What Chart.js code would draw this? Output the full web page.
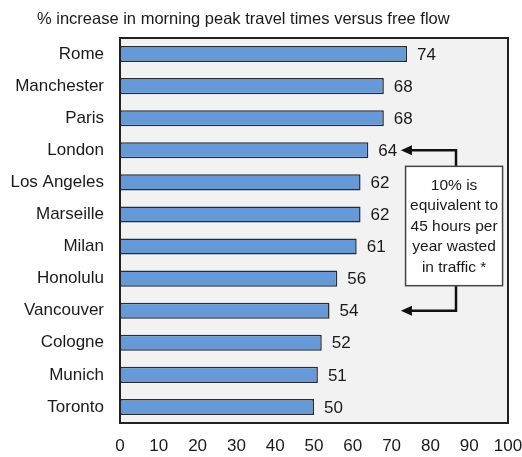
<!DOCTYPE html>
<html>
<head>
<meta charset="utf-8">
<script src="https://cdn.jsdelivr.net/npm/chart.js@4.4.0/dist/chart.umd.min.js"></script>
<style>
  html, body { margin: 0; padding: 0; background: #fff; }
  #wrap { width: 522px; height: 457px; }
</style>
</head>
<body>
<div id="wrap"><canvas id="chart" width="522" height="457"></canvas></div>
<script>
const cities = ['Rome', 'Manchester', 'Paris', 'London', 'Los Angeles', 'Marseille',
  'Milan', 'Honolulu', 'Vancouver', 'Cologne', 'Munich', 'Toronto'];
const increase = [74, 68, 68, 64, 62, 62, 61, 56, 54, 52, 51, 50];
const chartTitle = '% increase in morning peak travel times versus free flow';
const noteLines = ['10% is', 'equivalent to', '45 hours per', 'year wasted', 'in traffic *'];

const FONT = '"Liberation Sans", Arial, sans-serif';

// grey plot background + dark frame
const frame = {
  id: 'frame',
  beforeDatasetsDraw(chart) {
    const a = chart.chartArea, ctx = chart.ctx;
    ctx.save();
    ctx.fillStyle = '#f2f2f2';
    ctx.fillRect(a.left, a.top, a.right - a.left, a.bottom - a.top);
    ctx.restore();
  },
  afterDatasetsDraw(chart) {
    const a = chart.chartArea, ctx = chart.ctx;
    ctx.save();
    ctx.strokeStyle = '#222';
    ctx.lineWidth = 2;
    ctx.strokeRect(a.left, a.top, a.right - a.left, a.bottom - a.top);
    ctx.restore();
  }
};

// value labels, title and the note box with arrows
const extras = {
  id: 'extras',
  afterDraw(chart) {
    const ctx = chart.ctx;
    const x = chart.scales.x, y = chart.scales.y;
    ctx.save();
    ctx.fillStyle = '#1a1a1a';
    ctx.font = '17px ' + FONT;
    ctx.textBaseline = 'middle';
    ctx.textAlign = 'left';
    increase.forEach((v, i) => {
      ctx.fillText(v, x.getPixelForValue(v) + 10, y.getPixelForValue(i) + 1);
    });

    ctx.font = '16.5px ' + FONT;
    ctx.fillText(chartTitle, 37, 19);

    // note box
    const bx1 = x.getPixelForValue(73.6), bx2 = x.getPixelForValue(98.6);
    const by1 = y.getPixelForValue(3.5), by2 = y.getPixelForValue(7.22);
    const mid = x.getPixelForValue(86.6);
    const tip = x.getPixelForValue(72.4);
    const yTop = y.getPixelForValue(3), yBot = y.getPixelForValue(8);

    ctx.strokeStyle = '#111';
    ctx.lineWidth = 2.5;
    ctx.beginPath();
    ctx.moveTo(mid, by1); ctx.lineTo(mid, yTop); ctx.lineTo(tip + 9, yTop);
    ctx.moveTo(mid, by2); ctx.lineTo(mid, yBot); ctx.lineTo(tip + 9, yBot);
    ctx.stroke();
    ctx.fillStyle = '#111';
    [yTop, yBot].forEach(yy => {
      ctx.beginPath();
      ctx.moveTo(tip, yy);
      ctx.lineTo(tip + 11, yy - 5);
      ctx.lineTo(tip + 11, yy + 5);
      ctx.closePath();
      ctx.fill();
    });

    ctx.fillStyle = '#fff';
    ctx.fillRect(bx1, by1, bx2 - bx1, by2 - by1);
    ctx.strokeStyle = '#444';
    ctx.lineWidth = 1.5;
    ctx.strokeRect(bx1, by1, bx2 - bx1, by2 - by1);

    ctx.fillStyle = '#1a1a1a';
    ctx.font = '15.5px ' + FONT;
    ctx.textAlign = 'center';
    const cx = (bx1 + bx2) / 2;
    noteLines.forEach((t, i) => {
      ctx.fillText(t, cx, by1 + 19 + i * 20.5);
    });
    ctx.restore();
  }
};

new Chart(document.getElementById('chart'), {
  type: 'bar',
  data: {
    labels: cities,
    datasets: [{
      data: increase,
      backgroundColor: '#6599d8',
      borderColor: '#2b2b2b',
      borderWidth: 1.5,
      borderSkipped: false,
      barPercentage: 0.5,
      categoryPercentage: 1
    }]
  },
  options: {
    indexAxis: 'y',
    responsive: false,
    animation: false,
    layout: { padding: { top: 38, right: 14, left: 0, bottom: 0 } },
    plugins: {
      legend: { display: false },
      tooltip: { enabled: false }
    },
    scales: {
      x: {
        min: 0,
        max: 100,
        grid: { display: false, drawTicks: false },
        border: { display: false },
        ticks: { stepSize: 10, color: '#1a1a1a', padding: 13, font: { family: FONT, size: 17 } },
        afterFit(scale) {
          scale.height = 34;
          scale.paddingLeft = 0;
          scale.paddingRight = 0;
        }
      },
      y: {
        grid: { display: false, drawTicks: false },
        border: { display: false },
        ticks: { color: '#1a1a1a', padding: 16, font: { family: FONT, size: 17 } },
        afterFit(scale) {
          scale.width = 120;
          scale.paddingTop = 0;
          scale.paddingBottom = 0;
        }
      }
    }
  },
  plugins: [frame, extras]
});
</script>
</body>
</html>
